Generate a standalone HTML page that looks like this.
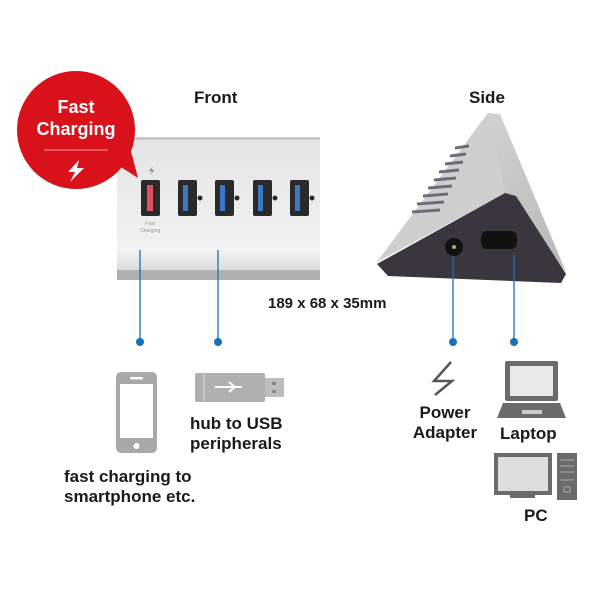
<!DOCTYPE html>
<html><head><style>
body{margin:0;background:#fff;}
.t{position:absolute;font-family:"Liberation Sans",sans-serif;font-weight:bold;color:#1a1a1a;font-size:17px;line-height:20px;white-space:nowrap}
</style></head><body>
<div style="position:relative;width:600px;height:600px;overflow:hidden">
<svg width="600" height="600" style="position:absolute;left:0;top:0">
<defs>
<linearGradient id="sv" x1="0" y1="0" x2="0" y2="1"><stop offset="0" stop-color="#e4e4e4"/><stop offset="0.8" stop-color="#f2f2f2"/><stop offset="1" stop-color="#cfcfcf"/></linearGradient>
<linearGradient id="sd" x1="0" y1="0" x2="1" y2="1"><stop offset="0" stop-color="#dcdcdc"/><stop offset="1" stop-color="#b8b8b8"/></linearGradient>
</defs>
<!-- front hub -->
<rect x="117" y="137" width="203" height="143" fill="url(#sv)"/>
<rect x="117" y="137" width="203" height="3" fill="#c8c8c8"/>
<rect x="117" y="270" width="203" height="10" fill="#b0b0b0"/>
<rect x="141" y="180" width="19" height="36" rx="2" fill="#2a2a2a"/>
<rect x="147" y="185" width="6" height="26" fill="#e05060"/>
<g fill="#2a2a2a">
<rect x="178" y="180" width="19" height="36" rx="2"/><rect x="215" y="180" width="19" height="36" rx="2"/>
<rect x="253" y="180" width="19" height="36" rx="2"/><rect x="290" y="180" width="19" height="36" rx="2"/>
<circle cx="200" cy="198" r="2.5"/><circle cx="237" cy="198" r="2.5"/><circle cx="275" cy="198" r="2.5"/><circle cx="312" cy="198" r="2.5"/>
</g>
<g fill="#3c78c8"><rect x="183" y="185" width="5" height="26"/><rect x="220" y="185" width="5" height="26"/><rect x="258" y="185" width="5" height="26"/><rect x="295" y="185" width="5" height="26"/></g>
<path d="M153 166l-4 5h3l-2 4 4-5h-3z" fill="#777"/>
<text x="150" y="225" font-size="5" fill="#999" text-anchor="middle" font-family="Liberation Sans">Fast</text>
<text x="150" y="232" font-size="5" fill="#999" text-anchor="middle" font-family="Liberation Sans">Charging</text>
<!-- red bubble -->
<circle cx="76" cy="130" r="59" fill="#d8111b"/>
<path d="M110 160 L138 178 L128 140 Z" fill="#d8111b"/>
<line x1="44" y1="150" x2="108" y2="150" stroke="#f3a0a0" stroke-width="1"/>
<path d="M79 160 L68 172 H75 L70 182 L84 168 H77 Z" fill="#fff"/>
<!-- side hub -->
<polygon points="377,262 488,113 500,114 566,272 505,193" fill="url(#sd)"/>
<polygon points="377,262 488,113 505,193" fill="#cfcfcf"/>
<g stroke="#6a6f7a" stroke-width="3">
<line x1="412" y1="212" x2="440" y2="210"/><line x1="417" y1="204" x2="444" y2="202"/><line x1="423" y1="196" x2="448" y2="194"/><line x1="428" y1="188" x2="452" y2="186"/><line x1="434" y1="180" x2="456" y2="178"/><line x1="439" y1="172" x2="459" y2="170"/><line x1="445" y1="164" x2="463" y2="162"/><line x1="450" y1="156" x2="466" y2="154"/><line x1="455" y1="148" x2="469" y2="146"/>
</g>
<polygon points="377,264 505,193 516,196 566,274 561,283 388,276" fill="#3a3640"/>
<circle cx="454" cy="247" r="9" fill="#111"/><circle cx="454" cy="247" r="2" fill="#aa8"/>
<rect x="481" y="231" width="36" height="18" rx="6" fill="#111"/>
<!-- connectors -->
<g stroke="#1a6fb5" stroke-width="1.3">
<line x1="140" y1="250" x2="140" y2="342"/><line x1="218" y1="250" x2="218" y2="342"/>
<line x1="453" y1="256" x2="453" y2="342"/><line x1="514" y1="255" x2="514" y2="342"/>
</g>
<g fill="#1a6fb5"><circle cx="140" cy="342" r="4"/><circle cx="218" cy="342" r="4"/><circle cx="453" cy="342" r="4"/><circle cx="514" cy="342" r="4"/></g>
<!-- phone -->
<rect x="116" y="372" width="41" height="81" rx="5" fill="#a8a8a8"/>
<rect x="120" y="384" width="33" height="54" fill="#fff"/>
<rect x="130" y="377" width="13" height="2.5" rx="1" fill="#fff"/>
<circle cx="136.5" cy="446" r="3" fill="#fff"/>
<!-- usb stick -->
<rect x="195" y="373" width="70" height="29" rx="2" fill="#b0b0b0"/>
<line x1="204" y1="374" x2="204" y2="401" stroke="#ddd" stroke-width="1"/>
<rect x="265" y="378" width="19" height="19" fill="#bdbdbd"/>
<rect x="272" y="382" width="4" height="3" fill="#888"/><rect x="272" y="390" width="4" height="3" fill="#888"/>
<path d="M215 387 H242 M235 387 l-6 -5 M235 387 l-6 5" stroke="#fff" stroke-width="2" fill="none"/>
<!-- bolt -->
<path d="M451 362 L434 381 H452 L435 395" stroke="#555" stroke-width="2.5" fill="none"/>
<!-- laptop -->
<rect x="505" y="361" width="53" height="40" rx="2" fill="#6b6b6b"/>
<rect x="510" y="366" width="43" height="30" fill="#e8e8e8"/>
<polygon points="503,403 560,403 566,418 497,418" fill="#6b6b6b"/>
<rect x="522" y="410" width="20" height="4" fill="#ccc"/>
<!-- pc -->
<rect x="494" y="453" width="58" height="42" fill="#6b6b6b"/>
<rect x="498" y="457" width="50" height="34" fill="#ddd"/>
<rect x="510" y="495" width="25" height="3" fill="#6b6b6b"/>
<rect x="557" y="453" width="20" height="47" fill="#6b6b6b"/>
<g stroke="#aaa" stroke-width="1"><line x1="560" y1="460" x2="574" y2="460"/><line x1="560" y1="466" x2="574" y2="466"/><line x1="560" y1="472" x2="574" y2="472"/><line x1="560" y1="480" x2="574" y2="480"/></g>
<rect x="564" y="487" width="6" height="5" fill="none" stroke="#aaa"/>
</svg>
<div class="t" style="left:31px;top:96px;width:90px;text-align:center;color:#fff;font-size:18px;line-height:22px">Fast<br>Charging</div>
<div class="t" style="left:194px;top:88px">Front</div>
<div class="t" style="left:469px;top:88px">Side</div>
<div class="t" style="left:268px;top:294px;font-size:15px">189 x 68 x 35mm</div>
<div class="t" style="left:190px;top:414px">hub to USB<br>peripherals</div>
<div class="t" style="left:64px;top:467px">fast charging to<br>smartphone etc.</div>
<div class="t" style="left:407px;top:403px;width:76px;text-align:center">Power<br>Adapter</div>
<div class="t" style="left:500px;top:424px">Laptop</div>
<div class="t" style="left:524px;top:506px">PC</div>
</div>
</body></html>
